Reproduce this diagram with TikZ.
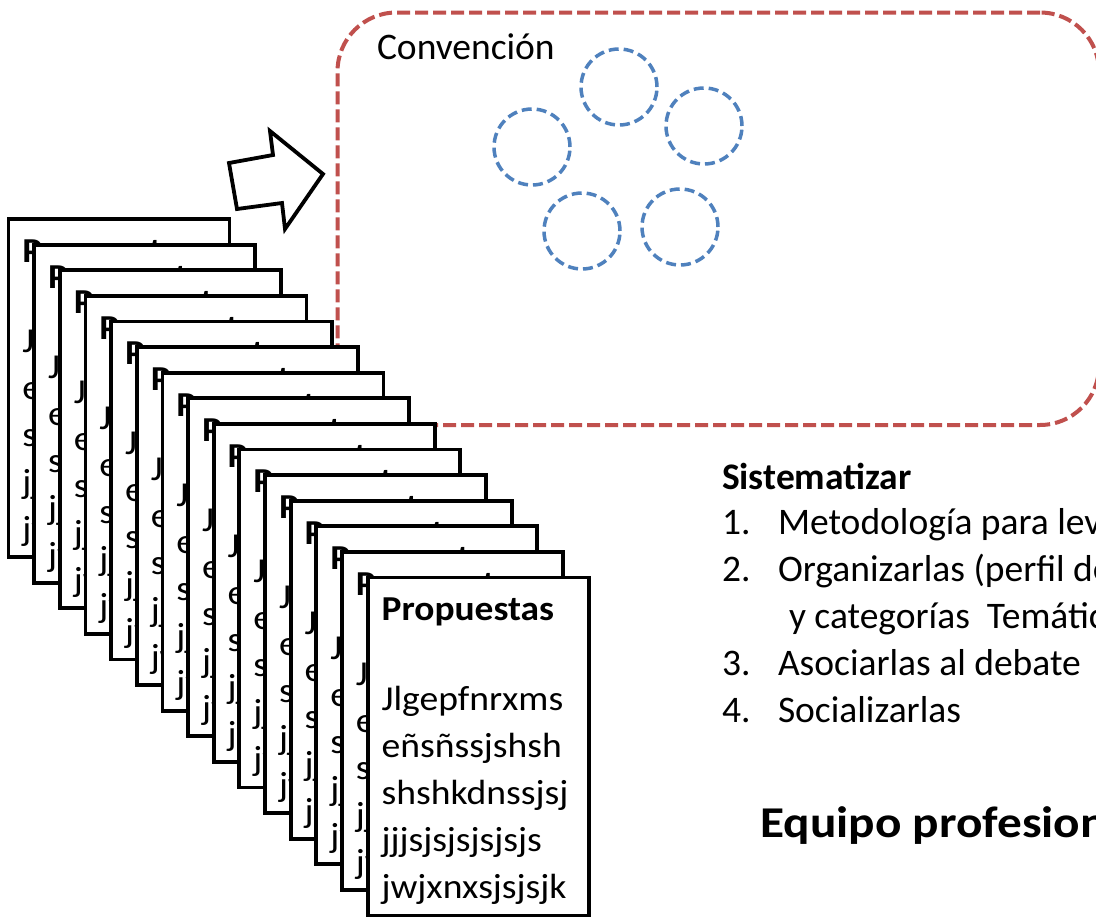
\documentclass[tikz,border=0pt]{standalone}
\usepackage{fontspec}
\setmainfont{Carlito}
\usetikzlibrary{calc}
\definecolor{convred}{HTML}{C0504D}
\definecolor{circblue}{HTML}{4F81BD}
\newcommand{\hstretch}[2]{\scalebox{#1}[1]{#2}}
\begin{document}
\begin{tikzpicture}[x=1pt,y=-1pt,
  card/.style={draw=black, fill=white, line width=3.8pt, rectangle,
    minimum width=221pt, minimum height=338pt, inner sep=0pt, outer sep=0pt, anchor=north west},
  txt/.style={inner sep=0pt, outer sep=0pt, anchor=base west, font=\fontsize{37.5}{45}\selectfont},
  btxt/.style={txt, font=\fontsize{37.5}{45}\selectfont\bfseries},
  ctxt/.style={inner sep=0pt, outer sep=0pt, anchor=base west, font=\fontsize{35}{42}\selectfont},
  cbtxt/.style={ctxt, font=\fontsize{35}{42}\selectfont\bfseries},
  convframe/.style={draw=convred, line width=4pt, dash pattern=on 13pt off 5pt,
    rounded corners=59pt, rectangle, inner sep=0pt, outer sep=0pt,
    minimum width=761.5pt, minimum height=412.5pt, anchor=north west},
  circ/.style={draw=circblue, line width=3.5pt, dash pattern=on 10pt off 5pt,
    circle, minimum size=76pt, inner sep=0pt},
  blockarrow/.style={draw=black, fill=white, line width=3.8pt, line join=miter}
]
\path[use as bounding box] (0,0) rectangle (1096,918);
\clip (0,0) rectangle (1096,918);
\fill[white] (0,0) rectangle (1096,918);

% Convention frame
\node[convframe] (conv) at (337.5,12.5) {};
\node[txt] (convlabel) at (377,59) {Convención};

% groups
\node[circ] (g1) at (619,87) {};
\node[circ] (g2) at (532,147) {};
\node[circ] (g3) at (704,126) {};
\node[circ] (g4) at (582,231) {};
\node[circ] (g5) at (680,227) {};

% block arrow
\draw[blockarrow] (229,163) -- (273,155) -- (270,131) -- (323,174) -- (285,229) -- (282,203) -- (237,209) -- cycle;

% stack of proposal cards
\foreach \i in {0,...,14}{
  \pgfmathsetmacro\cx{8.5+25.65*\i}
  \pgfmathsetmacro\cy{219+25.6*\i}
  \node[card] (card\i) at (\cx,\cy) {};
  \node[cbtxt] (title\i) at ($(card\i.north west)+(14,43.5)$) {\hstretch{1.07}{Propuestas}};
  \node[ctxt] (la\i) at ($(card\i.north west)+(14,133.5)$) {\hstretch{1.075}{Jlgepfnrxms}};
  \node[ctxt] (lb\i) at ($(card\i.north west)+(14,180.5)$) {\hstretch{1.075}{eñsñssjshsh}};
  \node[ctxt] (lc\i) at ($(card\i.north west)+(14,227.5)$) {\hstretch{1.075}{shshkdnssjsj}};
  \node[ctxt] (ld\i) at ($(card\i.north west)+(14,274.5)$) {\hstretch{1.075}{jjjsjsjsjsjsjs}};
  \node[ctxt] (le\i) at ($(card\i.north west)+(14,321.5)$) {\hstretch{1.075}{jwjxnxsjsjsjk}};
}

% Sistematizar list
\node[btxt] (sist) at (722,489) {Sistematizar};
\node[txt] (n1) at (722,534) {1.};
\node[txt] (t1) at (778,534) {Metodología para levantarlas};
\node[txt] (n2) at (722,581) {2.};
\node[txt] (t2) at (778,581) {Organizarlas (perfil de};
\node[txt] (t2b) at (789,628) {y categorías\ \ Temáticas};
\node[txt] (n3) at (722,675) {3.};
\node[txt] (t3) at (778,675) {Asociarlas al debate};
\node[txt] (n4) at (722,722) {4.};
\node[txt] (t4) at (778,722) {Socializarlas};

% Equipo
\node[inner sep=0pt, anchor=base west, font=\fontsize{44}{52}\selectfont\bfseries] (equipo) at (760,837) {\hstretch{1.12}{Equipo profesional}};
\end{tikzpicture}
\end{document}
